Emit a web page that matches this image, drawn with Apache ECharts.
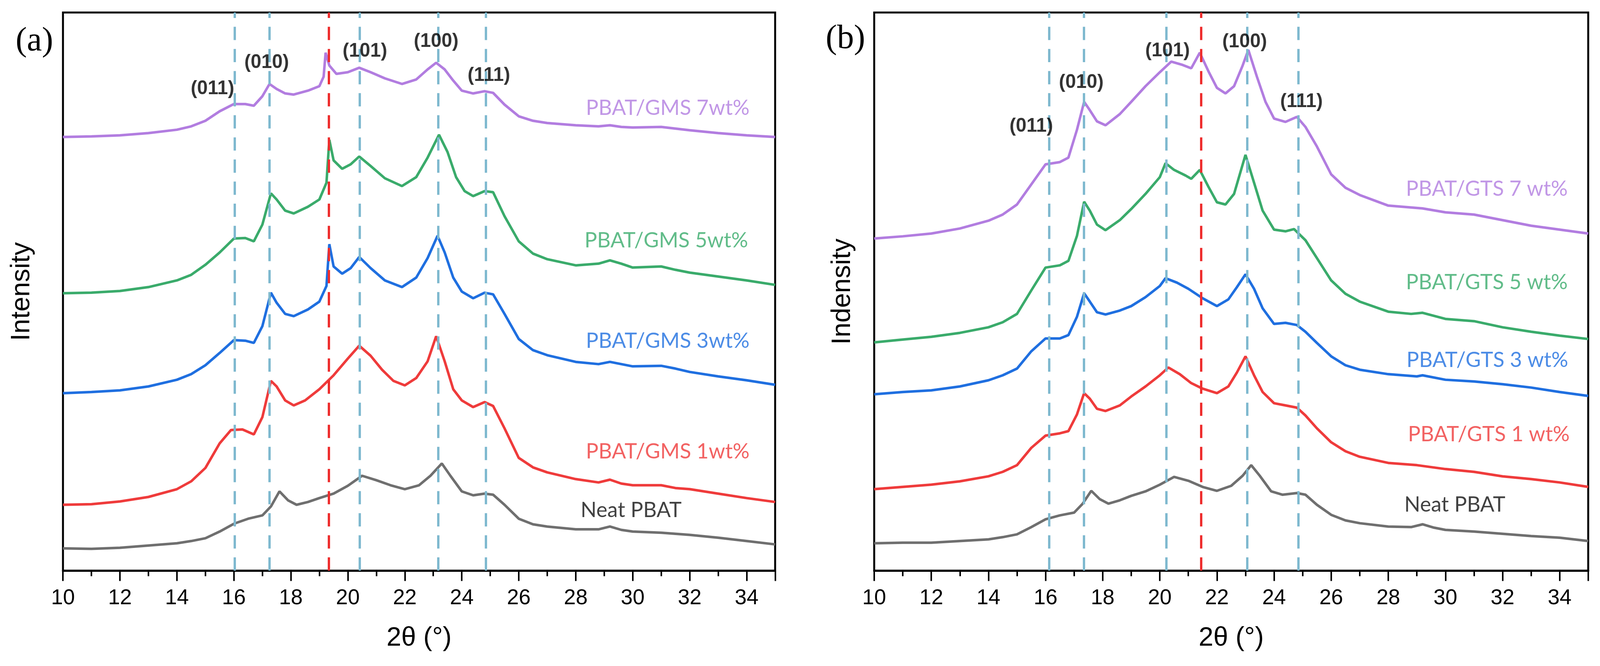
<!DOCTYPE html>
<html>
<head>
<meta charset="utf-8">
<script src="https://cdn.jsdelivr.net/npm/echarts@6/dist/echarts.min.js"></script>
<style>
  html, body { margin: 0; padding: 0; background: #fff; overflow: hidden; }
  #chart { width: 100vw; height: 100vh; }
</style>
</head>
<body>
<div id="chart"></div>
<script>
// XRD patterns, 2θ vs intensity (arbitrary, stacked).
const gmsNeat = [[10,4.0],[11,3.9],[12,4.1],[13,4.5],[14,4.9],[14.5,5.3],[15,5.8],[15.5,7.0],[16,8.4],[16.5,9.3],[17,9.9],[17.3,11.5],[17.6,14.2],[17.9,12.6],[18.2,11.8],[18.6,12.3],[19,13.0],[19.5,13.8],[20,15.2],[20.5,17.0],[21,16.2],[21.5,15.3],[22,14.6],[22.5,15.3],[22.9,17.0],[23.3,19.2],[23.6,17.0],[24,14.2],[24.4,13.5],[24.8,13.8],[25.1,13.6],[25.5,11.8],[26,9.3],[26.5,8.3],[27,7.9],[28,7.4],[28.8,7.4],[29.2,7.9],[29.6,7.3],[30,7.0],[31,6.8],[32,6.4],[33,5.9],[34,5.3],[35,4.7]];
const gms1 = [[10,11.8],[11,11.9],[12,12.4],[13,13.2],[14,14.6],[14.5,16.0],[15,18.4],[15.5,22.8],[15.9,25.2],[16.3,25.3],[16.7,24.4],[17,27.5],[17.3,34.0],[17.5,33.0],[17.8,30.5],[18.1,29.6],[18.5,30.5],[19,32.5],[19.5,35.0],[20,38.0],[20.4,40.3],[20.8,38.5],[21.2,36.0],[21.6,34.0],[22,33.2],[22.4,34.5],[22.8,37.5],[23.1,42.0],[23.4,37.5],[23.7,32.5],[24,30.5],[24.4,29.3],[24.8,30.2],[25.1,29.5],[25.5,25.5],[26,20.2],[26.5,18.5],[27,17.6],[28,16.4],[28.8,15.8],[29.2,16.3],[29.6,15.6],[30,15.3],[31,15.3],[31.5,14.8],[32,14.6],[33,13.8],[34,13.0],[35,12.3]];
const gms3 = [[10,31.8],[11,32.0],[12,32.3],[13,33.0],[14,34.2],[14.5,35.2],[15,36.8],[15.5,39.0],[16,41.3],[16.4,41.2],[16.7,40.8],[17,43.8],[17.3,49.8],[17.5,48.0],[17.8,46.0],[18.1,45.6],[18.6,46.8],[19,48.2],[19.25,51.0],[19.35,58.5],[19.5,54.5],[19.8,53.2],[20.1,54.2],[20.4,56.2],[20.8,54.2],[21.3,52.0],[21.9,50.8],[22.4,52.5],[22.8,56.0],[23.15,60.0],[23.4,57.0],[23.7,52.5],[24,50.0],[24.4,48.8],[24.8,49.8],[25.1,49.5],[25.5,46.0],[26,41.5],[26.5,39.5],[27,38.6],[28,37.4],[28.8,37.0],[29.2,37.4],[29.6,37.0],[30,36.6],[31,36.7],[31.5,36.2],[32,35.6],[33,34.8],[34,34.1],[35,33.3]];
const gms5 = [[10,49.7],[11,49.8],[12,50.1],[13,50.8],[14,52.0],[14.5,53.0],[15,54.8],[15.5,57.0],[16,59.5],[16.4,59.6],[16.7,59.0],[17,62.0],[17.3,67.6],[17.5,66.5],[17.8,64.5],[18.1,64.0],[18.6,65.2],[19,66.5],[19.25,69.5],[19.35,77.2],[19.5,73.5],[19.8,72.0],[20.1,72.8],[20.4,74.2],[20.8,72.5],[21.3,70.3],[21.9,68.9],[22.4,70.5],[22.8,74.0],[23.2,78.1],[23.5,75.0],[23.8,70.5],[24.1,68.0],[24.4,67.1],[24.8,68.0],[25.1,67.8],[25.5,63.5],[26,59.0],[26.5,56.8],[27,55.8],[28,54.7],[28.8,55.0],[29.2,55.6],[29.6,55.0],[30,54.3],[31,54.5],[31.5,53.9],[32,53.4],[33,52.7],[34,52.0],[35,51.2]];
const gms7 = [[10,77.7],[11,77.8],[12,78.0],[13,78.4],[14,79.0],[14.5,79.6],[15,80.6],[15.5,82.3],[16,83.6],[16.4,83.6],[16.7,83.3],[17,85.0],[17.25,87.2],[17.5,86.3],[17.8,85.5],[18.1,85.3],[18.6,86.0],[19,86.8],[19.15,88.5],[19.22,92.8],[19.35,90.5],[19.6,89.0],[20,89.3],[20.4,90.1],[20.8,89.3],[21.3,88.2],[21.9,87.2],[22.4,88.0],[22.8,89.8],[23.1,91.0],[23.4,89.8],[23.7,87.8],[24,86.0],[24.4,85.5],[24.8,85.9],[25.1,85.6],[25.5,83.5],[26,81.4],[26.5,80.6],[27,80.2],[28,79.8],[28.8,79.6],[29.2,79.8],[29.6,79.5],[30,79.4],[31,79.5],[32,78.9],[33,78.4],[34,78.0],[35,77.7]];

const gtsNeat = [[10,4.9],[11,5.0],[12,5.0],[13,5.3],[14,5.6],[14.5,6.0],[15,6.5],[15.5,7.8],[16,9.2],[16.5,9.9],[17,10.4],[17.3,12.0],[17.6,14.3],[17.9,12.8],[18.2,12.0],[18.6,12.6],[19,13.4],[19.5,14.2],[20,15.4],[20.5,16.8],[21,16.1],[21.5,15.0],[22,14.3],[22.5,15.2],[22.9,17.0],[23.2,18.9],[23.5,17.0],[23.9,14.2],[24.3,13.6],[24.8,13.9],[25.1,13.6],[25.5,11.8],[26,10.0],[26.5,9.0],[27,8.5],[28,7.9],[28.8,7.8],[29.2,8.3],[29.6,7.7],[30,7.3],[31,7.0],[32,6.6],[33,6.2],[34,5.9],[35,5.3]];
const gts1 = [[10,14.6],[11,15.0],[12,15.4],[13,16.0],[14,16.9],[14.5,17.7],[15,18.9],[15.5,22.0],[16,24.2],[16.5,24.6],[16.8,25.0],[17.1,28.0],[17.35,31.8],[17.55,30.8],[17.8,29.0],[18.1,28.6],[18.6,29.6],[19,31.2],[19.5,33.0],[20,35.0],[20.3,36.4],[20.7,35.2],[21.1,33.6],[21.5,32.6],[22,31.8],[22.4,33.0],[22.7,35.5],[23,38.4],[23.3,35.0],[23.6,32.0],[24,30.0],[24.4,29.6],[24.8,29.2],[25.1,27.8],[25.5,25.5],[26,23.0],[26.5,21.4],[27,20.4],[28,19.3],[29,18.9],[30,18.2],[31,17.7],[32,16.9],[33,16.4],[34,15.8],[35,15.0]];
const gts3 = [[10,31.6],[11,32.0],[12,32.3],[13,33.0],[14,34.1],[14.5,35.0],[15,36.2],[15.5,39.3],[16,41.6],[16.5,41.6],[16.8,42.2],[17.1,45.5],[17.35,49.7],[17.55,48.2],[17.8,46.3],[18.1,45.9],[18.6,46.6],[19,47.4],[19.5,49.0],[20,51.0],[20.2,52.4],[20.6,51.6],[21,50.5],[21.5,48.8],[22,47.4],[22.4,48.6],[22.7,50.8],[23,53.1],[23.3,50.5],[23.6,47.0],[24,44.2],[24.4,44.4],[24.8,44.0],[25.1,42.8],[25.5,40.8],[26,38.4],[26.5,36.8],[27,36.0],[28,35.2],[29,34.8],[29.2,35.0],[30,34.2],[31,33.9],[32,33.4],[33,32.8],[34,32.0],[35,31.3]];
const gts5 = [[10,40.9],[11,41.4],[12,41.9],[13,42.6],[14,43.6],[14.5,44.5],[15,46.0],[15.5,50.2],[16,54.3],[16.5,54.7],[16.8,55.5],[17.1,60.0],[17.35,66.1],[17.55,64.5],[17.8,62.0],[18.1,61.0],[18.6,62.8],[19,64.8],[19.5,67.5],[20,70.5],[20.2,73.0],[20.5,71.8],[20.9,70.8],[21.1,70.2],[21.4,71.8],[21.7,68.8],[22,66.0],[22.3,65.6],[22.6,67.5],[23,74.5],[23.3,69.5],[23.6,64.5],[24,61.1],[24.4,60.8],[24.7,61.2],[25.1,59.2],[25.5,56.0],[26,52.0],[26.5,49.6],[27,48.2],[28,46.4],[28.8,46.0],[29.2,46.2],[30,45.1],[31,44.7],[32,43.6],[33,42.8],[34,42.1],[35,41.5]];
const gts7 = [[10,59.5],[11,59.9],[12,60.4],[13,61.3],[14,62.7],[14.5,63.8],[15,65.6],[15.5,69.2],[16,72.8],[16.5,73.2],[16.8,74.0],[17.1,79.0],[17.35,84.0],[17.55,82.5],[17.8,80.5],[18.1,79.8],[18.6,81.8],[19,84.0],[19.5,86.8],[20,89.3],[20.4,91.2],[20.8,90.6],[21.1,90.0],[21.4,92.8],[21.7,89.5],[22,86.5],[22.3,85.5],[22.6,86.8],[22.9,90.5],[23.1,93.3],[23.4,88.5],[23.7,84.0],[24,81.0],[24.4,80.4],[24.8,81.3],[25.1,79.5],[25.5,76.0],[26,71.0],[26.5,68.6],[27,67.3],[28,65.4],[29.2,64.9],[30,64.2],[31,63.8],[32,62.8],[33,61.8],[34,61.1],[35,60.4]];

// series names / colours, bottom to top
const gmsNames = ['Neat PBAT', 'PBAT/GMS 1wt%', 'PBAT/GMS 3wt%', 'PBAT/GMS 5wt%', 'PBAT/GMS 7wt%'];
const gtsNames = ['Neat PBAT', 'PBAT/GTS 1 wt%', 'PBAT/GTS 3 wt%', 'PBAT/GTS 5 wt%', 'PBAT/GTS 7 wt%'];
const colors = ['#6f6f6f', '#ef3b3b', '#1f6fe0', '#3aab6b', '#b27de0'];
const labelColors = ['#111111', '#ef3b3b', '#1f6fe0', '#3aab6b', '#b27de0'];

// where the curve names sit [x, y]
const gmsNamePos = [[28.17, 10.8], [34.1, 21.3], [34.1, 41.1], [34.05, 59.1], [34.1, 82.9]];
const gtsNamePos = [[28.56, 11.8], [34.35, 24.4], [34.3, 37.7], [34.28, 51.6], [34.28, 68.4]];

// peak indices
const peakNames = ['(011)', '(010)', '(101)', '(100)', '(111)'];
const gmsPeakPos = [[15.25, 86.3], [17.15, 91.0], [20.6, 93.0], [23.1, 94.8], [24.95, 88.7]];
const gtsPeakPos = [[15.5, 79.6], [17.25, 87.4], [20.27, 93.1], [22.97, 94.7], [24.96, 84.0]];

// reference lines
const gmsBlueLines = [16.03, 17.25, 20.42, 23.17, 24.85];
const gmsRedLines = [19.33];
const gtsBlueLines = [16.13, 17.34, 20.23, 23.06, 24.85];
const gtsRedLines = [21.45];

const el = document.getElementById('chart');
const W = el.clientWidth || 4345, H = el.clientHeight || 1704;
const sx = W / 4345, sy = H / 1704, s = Math.min(sx, sy);
const chart = echarts.init(el);

function xAxisFor(i) {
    return {
        type: 'value', gridIndex: i, min: 10, max: 35, interval: 2,
        axisLine: { show: true, onZero: false, lineStyle: { color: '#000', width: 5 } },
        axisTick: { show: true, inside: false, length: 28 * s, lineStyle: { color: '#000', width: 4 } },
        minorTick: { show: true, splitNumber: 2, length: 15 * s, lineStyle: { color: '#000', width: 4 } },
        splitLine: { show: false },
        axisLabel: { fontSize: 58 * s, color: '#000', margin: 46 * s, fontFamily: 'Liberation Sans', showMaxLabel: false },
        name: '2θ (°)', nameLocation: 'middle', nameGap: 148 * s,
        nameTextStyle: { fontSize: 72 * s, color: '#000', fontFamily: 'Liberation Sans' }
    }
}
function yAxisFor(i, title, gap) {
    return {
        type: 'value', gridIndex: i, min: 0, max: 100,
        axisLine: { show: false }, axisTick: { show: false }, axisLabel: { show: false },
        splitLine: { show: false },
        name: title, nameLocation: 'middle', nameGap: gap * sx,
        nameTextStyle: { fontSize: 72 * s, color: '#000', fontFamily: 'Liberation Sans' }
    }
}

function panelSeries(i, curves, names, namePos, peakPos, blue, red) {
    const out = curves.map((d, k) => ({
        type: 'line', name: names[k], xAxisIndex: i, yAxisIndex: i,
        data: d, showSymbol: false, symbol: 'none',
        lineStyle: { color: colors[k], width: 6.5 }, z: 2
    }));
    // curve names
    out.push({
        type: 'scatter', xAxisIndex: i, yAxisIndex: i, symbolSize: 0.01, silent: true,
        itemStyle: { color: 'transparent' },
        data: namePos.map((p, k) => ({
            value: p, name: names[k],
            label: { color: labelColors[k], align: k === 0 ? 'left' : 'right' }
        })),
        label: {
            show: true, position: 'inside', verticalAlign: 'middle',
            fontSize: 57 * s, fontFamily: 'Lato', formatter: p => p.name
        },
        z: 4
    });
    // peak indices + dashed lines
    out.push({
        type: 'scatter', xAxisIndex: i, yAxisIndex: i, symbolSize: 0.01, silent: true,
        itemStyle: { color: 'transparent' },
        data: peakPos.map((p, k) => ({ value: p, name: peakNames[k] })),
        label: {
            show: true, position: 'inside', align: 'center', verticalAlign: 'middle',
            fontSize: 52 * s, fontWeight: 'bold', color: '#000', fontFamily: 'Liberation Sans',
            formatter: p => p.name
        },
        markLine: {
            silent: true, symbol: ['none', 'none'], label: { show: false },
            lineStyle: { type: [36 * s, 24 * s], width: 6 },
            data: blue.map(v => ({ xAxis: v, lineStyle: { color: '#7fb9cf' } }))
                .concat(red.map(v => ({ xAxis: v, lineStyle: { color: '#ee2e2e' } })))
        },
        z: 5
    });
    return out;
}

const option = {
    animation: false,
    backgroundColor: '#fff',
    title: [
        { text: '(a)', left: 37 * sx, top: 58 * sy, textStyle: { fontSize: 92 * s, fontWeight: 'normal', color: '#000', fontFamily: 'Liberation Serif' } },
        { text: '(b)', left: 2237 * sx, top: 52 * sy, textStyle: { fontSize: 92 * s, fontWeight: 'normal', color: '#000', fontFamily: 'Liberation Serif' } }
    ],
    grid: [
        { left: 171 * sx, right: 2240 * sx, top: 32 * sy, bottom: 244 * sy, show: true, borderColor: '#000', borderWidth: 5 },
        { left: 2374 * sx, right: 32 * sx, top: 32 * sy, bottom: 244 * sy, show: true, borderColor: '#000', borderWidth: 5 }
    ],
    xAxis: [xAxisFor(0), xAxisFor(1)],
    yAxis: [yAxisFor(0, 'Intensity', 75), yAxisFor(1, 'Indensity', 50)],
    series: [].concat(
        panelSeries(0, [gmsNeat, gms1, gms3, gms5, gms7], gmsNames, gmsNamePos, gmsPeakPos, gmsBlueLines, gmsRedLines),
        panelSeries(1, [gtsNeat, gts1, gts3, gts5, gts7], gtsNames, gtsNamePos, gtsPeakPos, gtsBlueLines, gtsRedLines)
    )
};

chart.setOption(option);
window.addEventListener('resize', () => chart.resize());
</script>
</body>
</html>
